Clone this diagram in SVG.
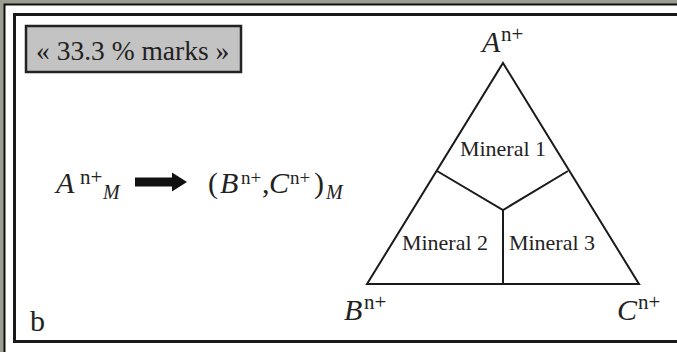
<svg xmlns="http://www.w3.org/2000/svg" width="677" height="352" viewBox="0 0 677 352">
<style>
text{font-family:"Liberation Serif","Times New Roman",serif;fill:#222}
.it{font-style:italic}
.ln{stroke:#1a1a1a;stroke-width:2;fill:none;stroke-linejoin:miter}
.sup{font-size:21px}
.big{font-size:30px}
.sub{font-size:20px;font-style:italic}
.min{font-size:22px}
</style>
<rect x="0" y="0" width="677" height="352" fill="#9b9d90"/>
<rect x="4.5" y="4.5" width="690" height="360" fill="#ffffff" stroke="#111" stroke-width="2"/>
<rect x="14.5" y="14.5" width="680" height="327" fill="#ffffff" stroke="#1a1a1a" stroke-width="3"/>
<g id="title">
<rect x="26" y="26" width="215" height="46" fill="#c3c3c3" stroke="#222" stroke-width="2.5"/>
<text x="36" y="60" font-size="27.5">« 33.3 % marks »</text>
</g>
<g id="formula">
<text x="56" y="193" class="big it">A</text>
<text x="80" y="184" class="sup">n+</text>
<text x="103" y="199" class="sub">M</text>
<text x="208" y="193" class="big">(</text>
<text x="220" y="193" class="big it">B</text>
<text x="241" y="184" font-size="19">n+</text>
<text x="262" y="193" class="big">,</text>
<text x="269" y="193" class="big it">C</text>
<text x="290" y="184" font-size="19">n+</text>
<text x="314" y="193" class="big">)</text>
<text x="326" y="199" class="sub">M</text>
</g>
<g id="connectors">
<polygon points="135,177.5 172,177.5 172,172.5 187,182 172,191.5 172,186.5 135,186.5" fill="#111"/>
<polygon class="ln" points="503,63 639,284 367,284"/>
<polyline class="ln" points="437,171 503,210 568,171"/>
<line class="ln" x1="503" y1="210" x2="503" y2="284"/>
</g>
<g id="vertexA">
<text x="482" y="52" class="big it">A</text>
<text x="501" y="41" class="sup">n+</text>
</g>
<g id="vertexB">
<text x="344" y="320" class="big it">B</text>
<text x="364" y="309" class="sup">n+</text>
</g>
<g id="vertexC">
<text x="617" y="320" class="big it">C</text>
<text x="638" y="309" class="sup">n+</text>
</g>
<g id="mineral1"><text x="503" y="156" class="min" text-anchor="middle">Mineral 1</text></g>
<g id="mineral2"><text x="445" y="250" class="min" text-anchor="middle">Mineral 2</text></g>
<g id="mineral3"><text x="552" y="250" class="min" text-anchor="middle">Mineral 3</text></g>
<g id="label-b"><text x="30" y="331" font-size="30">b</text></g>
</svg>
